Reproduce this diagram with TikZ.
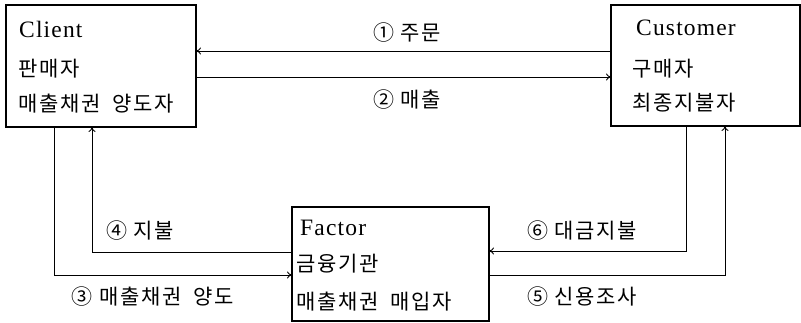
\documentclass[tikz,border=0pt]{standalone}
\usepackage{fontspec}
\setmainfont{Liberation Serif}[LetterSpace=5]
\newfontfamily\kr{Noto Sans CJK KR}[LetterSpace=8]
\usetikzlibrary{arrows.meta}
\tikzset{
  party/.style={draw, line width=1.1pt, inner sep=0pt, outer sep=0pt},
  latin/.style={anchor=base west, inner sep=0pt, font=\fontsize{23.5}{28}\selectfont},
  hangul/.style={anchor=west, inner sep=0pt, font=\fontsize{21}{25}\selectfont\kr},
  lbl/.style={inner sep=0pt, font=\fontsize{21}{25}\selectfont\kr},
  flow/.style={line width=0.9pt, -{To[length=5pt,width=7pt]}},
}
\newcommand{\wsp}{\hspace{12pt}}
\begin{document}
\begin{tikzpicture}[x=1pt,y=-1pt]
\useasboundingbox (0,0) rectangle (801,323);
% boxes
\node[party, minimum width=190pt, minimum height=122pt, anchor=north west] (client) at (6,5) {};
\node[party, minimum width=189pt, minimum height=121pt, anchor=north west] (customer) at (611,5) {};
\node[party, minimum width=197pt, minimum height=114pt, anchor=north west] (factor) at (292,207) {};
% box texts
\node[latin] (c1) at (19,37.5) {Client};
\node[hangul] (c2) at (18,69) {판매자};
\node[hangul] (c3) at (18,104) {매출채권\wsp 양도자};
\node[latin] (u1) at (636,36) {Customer};
\node[hangul] (u2) at (632,69) {구매자};
\node[hangul] (u3) at (632,103) {최종지불자};
\node[latin] (f1) at (300,236) {Factor};
\node[hangul] (f2) at (296,264) {금융기관};
\node[hangul] (f3) at (296,302) {매출채권\wsp 매입자};
% connector helper coordinates
\coordinate (a1s) at (customer.west |- 0,51);
\coordinate (a1e) at (client.east |- 0,51);
\coordinate (a2s) at (client.east |- 0,77);
\coordinate (a2e) at (customer.west |- 0,77);
\coordinate (b3) at (54,275);
\coordinate (b4) at (92,252);
\coordinate (b6) at (686,251);
\coordinate (b5) at (725,275);
% connectors
\draw[flow] (a1s) -- (a1e);
\draw[flow] (a2s) -- (a2e);
\draw[flow] (client.south -| b3) -- (b3) -- (factor.west |- b3);
\draw[flow] (factor.west |- b4) -- (b4) -- (client.south -| b4);
\draw[flow] (customer.south -| b6) -- (b6) -- (factor.east |- b6);
\draw[flow] (factor.east |- b5) -- (b5) -- (customer.south -| b5);
% labels
\node[lbl] (l1) at (407,33) {① 주문};
\node[lbl] (l2) at (407,100) {② 매출};
\node[lbl] (l4) at (140,231) {④ 지불};
\node[lbl] (l3) at (153,297) {③ 매출채권\wsp 양도};
\node[lbl] (l6) at (582,231) {⑥ 대금지불};
\node[lbl] (l5) at (582,297) {⑤ 신용조사};
\end{tikzpicture}
\end{document}
